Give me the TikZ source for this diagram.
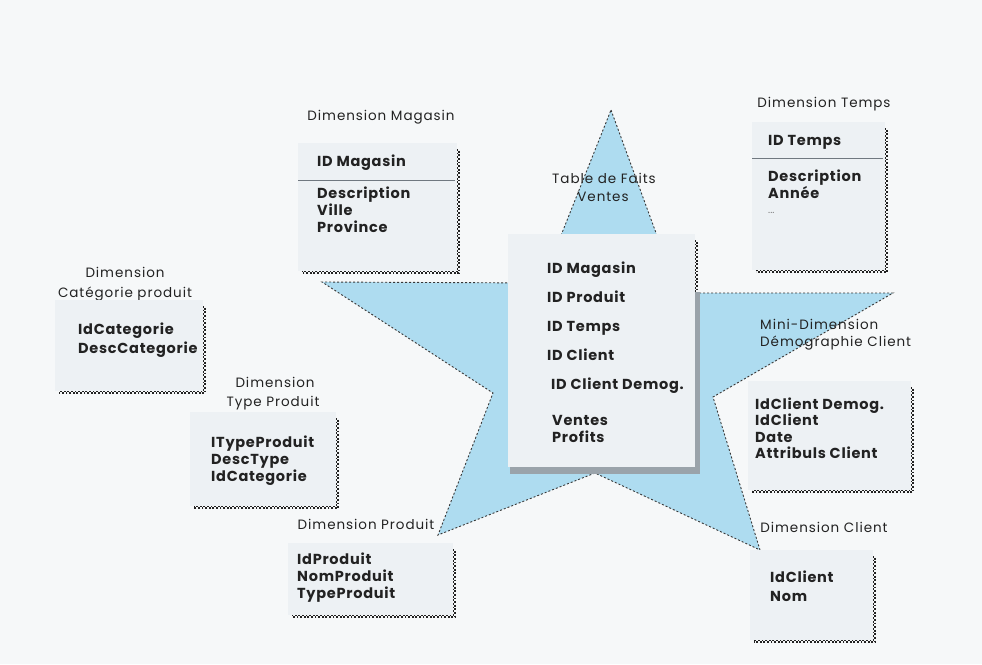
\documentclass[tikz,border=0pt]{standalone}
\usepackage{fontspec}
\setmainfont{Poppins}
\newfontfamily\fldfont[LetterSpace=5]{Poppins}
\newfontfamily\ttlfont[LetterSpace=7]{Poppins}
\definecolor{bgc}{HTML}{F6F8F9}
\definecolor{starblue}{HTML}{AEDCF0}
\definecolor{boxc}{HTML}{EDF1F4}
\definecolor{inkc}{HTML}{222222}
\definecolor{sepc}{HTML}{707880}
\definecolor{shadowc}{HTML}{9AA3AA}
\tikzset{
  dimbox/.style={fill=boxc, draw=none, anchor=north west, inner sep=0pt},
  fld/.style={anchor=base west, inner sep=0pt, text=inkc, font=\fldfont\fontsize{14.5}{16}\selectfont\bfseries},
  ttl/.style={anchor=base, inner sep=0pt, text=inkc, font=\ttlfont\fontsize{13.5}{15}\selectfont},
  chka/.style={draw=inkc, line width=1.8pt, dash pattern=on 1.8pt off 1.8pt},
  chkb/.style={chka, dash phase=1.8pt},
  starline/.style={draw=inkc!90, line width=0.9pt, dash pattern=on 2pt off 2pt},
  sepline/.style={draw=sepc, line width=1pt}
}
% checkered drop edge on the right and bottom of a table
\newcommand\chkedge[1]{%
  \draw[chka] ([yshift=-6pt]#1.north east) -- (#1.south east) -- ([xshift=4pt]#1.south west);
  \draw[chkb] ([xshift=1.8pt,yshift=-6pt]#1.north east) -- ([xshift=1.8pt,yshift=-1.8pt]#1.south east) -- ([xshift=4pt,yshift=-1.8pt]#1.south west);
}
\begin{document}
\begin{tikzpicture}[x=1pt,y=-1pt]
\useasboundingbox[fill=bgc] (0,0) rectangle (982,664);

% the star
\coordinate (sTop) at (611,110);
\coordinate (sITR) at (678,293);
\coordinate (sR)   at (893,293);
\coordinate (sIR)  at (713,397);
\coordinate (sBR)  at (760,550);
\coordinate (sIB)  at (595,473);
\coordinate (sBL)  at (438,535);
\coordinate (sIL)  at (493,393);
\coordinate (sL)   at (322,282);
\coordinate (sITL) at (542,283);
\fill[starblue] (sTop) -- (sITR) -- (sR) -- (sIR) -- (sBR) -- (sIB) -- (sBL) -- (sIL) -- (sL) -- (sITL) -- cycle;
\draw[starline] (sTop) -- (sITR) -- (sR) -- (sIR) -- (sBR) -- (sIB) -- (sBL) -- (sIL) -- (sL) -- (sITL) -- cycle;

% fact table
\node[dimbox, minimum width=187pt, minimum height=233pt] (fact) at (508,234) {};
\fill[shadowc] ([xshift=2pt]fact.south west) rectangle ([xshift=5pt,yshift=-7pt]fact.south east);
\fill[shadowc] ([yshift=-58pt]fact.north east) rectangle ([xshift=5pt]fact.south east);
\draw[chka] ([yshift=-6pt]fact.north east) -- ([yshift=-58pt]fact.north east);
\draw[chkb] ([xshift=1.8pt,yshift=-6pt]fact.north east) -- ([xshift=1.8pt,yshift=-58pt]fact.north east);
\node[ttl] (factT1) at (604,183) {Table de Faits};
\node[ttl] (factT2) at (603,201) {Ventes};
\node[fld] (fact-k1) at (547,273) {ID Magasin};
\node[fld] (fact-k2) at (547,302) {ID Produit};
\node[fld] (fact-k3) at (547,331) {ID Temps};
\node[fld] (fact-k4) at (547,360) {ID Client};
\node[fld] (fact-k5) at (551,389) {ID Client Demog.};
\node[fld] (fact-m1) at (552,425) {Ventes};
\node[fld] (fact-m2) at (552,442) {Profits};

% Dimension Magasin
\node[ttl] (magT) at (381,120) {Dimension Magasin};
\node[dimbox, minimum width=159pt, minimum height=128pt] (mag) at (298,143) {};
\chkedge{mag}
\draw[sepline] (mag.west |- 0,180) -- ([xshift=-2pt]mag.east |- 0,180);
\node[fld] (mag-id) at (317,166) {ID Magasin};
\node[fld] (mag-a1) at (317,198) {Description};
\node[fld] (mag-a2) at (317,215) {Ville};
\node[fld] (mag-a3) at (317,232) {Province};

% Dimension Temps
\node[ttl] (tmpT) at (824,107) {Dimension Temps};
\node[dimbox, minimum width=133pt, minimum height=148pt] (tmp) at (752,122) {};
\chkedge{tmp}
\draw[sepline] (tmp.west |- 0,158) -- ([xshift=-2pt]tmp.east |- 0,158);
\node[fld] (tmp-id) at (768,145) {ID Temps};
\node[fld] (tmp-a1) at (768,181) {Description};
\node[fld] (tmp-a2) at (768,198) {Année};
\node[fld, font=\fontsize{10}{12}\selectfont, text=inkc!60] (tmp-a3) at (768,213) {...};

% Dimension Categorie produit
\node[ttl] (catT1) at (125,277) {Dimension};
\node[ttl] (catT2) at (125,297) {Catégorie produit};
\node[dimbox, minimum width=148pt, minimum height=91pt] (cat) at (55,300) {};
\chkedge{cat}
\node[fld] (cat-a1) at (78,334) {IdCategorie};
\node[fld] (cat-a2) at (78,353) {DescCategorie};

% Dimension Type Produit
\node[ttl] (typT1) at (275,387) {Dimension};
\node[ttl] (typT2) at (273,406) {Type Produit};
\node[dimbox, minimum width=146pt, minimum height=94pt] (typ) at (190,412) {};
\chkedge{typ}
\node[fld] (typ-a1) at (211,447) {ITypeProduit};
\node[fld] (typ-a2) at (211,464) {DescType};
\node[fld] (typ-a3) at (211,481) {IdCategorie};

% Dimension Produit
\node[ttl] (prdT) at (366,529) {Dimension Produit};
\node[dimbox, minimum width=165pt, minimum height=72pt] (prd) at (288,543) {};
\chkedge{prd}
\node[fld] (prd-a1) at (297,564) {IdProduit};
\node[fld] (prd-a2) at (297,581) {NomProduit};
\node[fld] (prd-a3) at (297,598) {TypeProduit};

% Mini-Dimension Demographie Client
\node[ttl, anchor=base west] (miniT1) at (760,329) {Mini-Dimension};
\node[ttl, anchor=base west] (miniT2) at (760,346) {Démographie Client};
\node[dimbox, minimum width=163pt, minimum height=109pt] (mini) at (748,381) {};
\chkedge{mini}
\node[fld] (mini-a1) at (755,409) {IdClient Demog.};
\node[fld] (mini-a2) at (755,425.5) {IdClient};
\node[fld] (mini-a3) at (755,442) {Date};
\node[fld] (mini-a4) at (755,458.5) {Attribuls Client};

% Dimension Client
\node[ttl] (cliT) at (824,532) {Dimension Client};
\node[dimbox, minimum width=123pt, minimum height=90pt] (cli) at (750,550) {};
\chkedge{cli}
\node[fld] (cli-a1) at (770,582) {IdClient};
\node[fld] (cli-a2) at (770,601) {Nom};
\end{tikzpicture}
\end{document}
